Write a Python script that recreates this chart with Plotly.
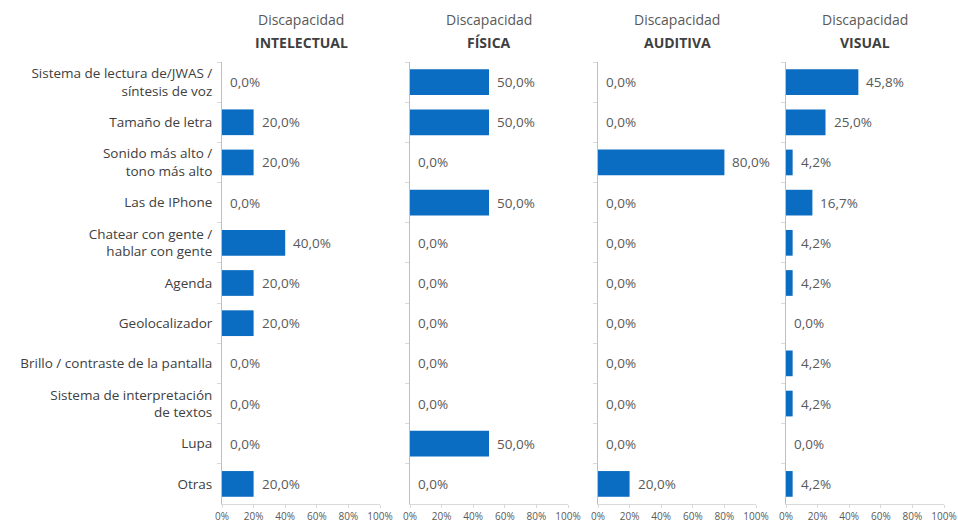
import plotly.graph_objects as go

# Funcionalidades usadas, por tipo de discapacidad (% de usuarios)
categorias = [
    "Sistema de lectura de/JWAS /<br>síntesis de voz",
    "Tamaño de letra",
    "Sonido más alto /<br>tono más alto",
    "Las de IPhone",
    "Chatear con gente /<br>hablar con gente",
    "Agenda",
    "Geolocalizador",
    "Brillo / contraste de la pantalla",
    "Sistema de interpretación<br>de textos",
    "Lupa",
    "Otras",
]
intelectual = [0.0, 20.0, 20.0, 0.0, 40.0, 20.0, 20.0, 0.0, 0.0, 0.0, 20.0]
fisica = [50.0, 50.0, 0.0, 50.0, 0.0, 0.0, 0.0, 0.0, 0.0, 50.0, 0.0]
auditiva = [0.0, 0.0, 80.0, 0.0, 0.0, 0.0, 0.0, 0.0, 0.0, 0.0, 20.0]
visual = [45.8, 25.0, 4.2, 16.7, 4.2, 4.2, 0.0, 4.2, 4.2, 0.0, 4.2]

paneles = [
    ("INTELECTUAL", intelectual),
    ("FÍSICA", fisica),
    ("AUDITIVA", auditiva),
    ("VISUAL", visual),
]
ticks_x = [0, 20, 40, 60, 80, 100]
ticks_x_txt = ["0%", "20%", "40%", "60%", "80%", "100%"]

W, H = 958, 526
FONT = "Open Sans"
AZUL = "#0B6DC2"
GRIS_TXT = "#595959"
GRIS_LINEA = "#BFBFBF"

# posiciones horizontales de cada panel (px)
x_inicio = [222, 410, 598, 786]
ancho = 158
y_dom = [(H - 504) / H, (H - 62) / H]

fig = go.Figure()
annotations = []

for i, (nombre, valores) in enumerate(paneles):
    n = i + 1
    xa = "x" if n == 1 else f"x{n}"
    ya = "y" if n == 1 else f"y{n}"
    fig.add_trace(go.Bar(
        x=valores, y=categorias, orientation="h",
        xaxis=xa, yaxis=ya,
        marker=dict(color=AZUL, line=dict(width=0)),
        width=0.64, showlegend=False, hoverinfo="x+y",
    ))
    for cat, v in zip(categorias, valores):
        annotations.append(dict(
            x=v, y=cat, xref=xa, yref=ya, xanchor="left", yanchor="middle",
            xshift=6, showarrow=False,
            text=f"{v:.1f}".replace(".", ",") + "%",
            font=dict(family=FONT, size=13.5, color=GRIS_TXT),
        ))
    d0 = x_inicio[i] / W
    d1 = (x_inicio[i] + ancho) / W
    centro = (x_inicio[i] + ancho / 2) / W
    annotations.append(dict(
        x=centro, y=(H - 20) / H, xref="paper", yref="paper",
        xanchor="center", yanchor="middle", showarrow=False,
        text="Discapacidad", font=dict(family=FONT, size=14, color=GRIS_TXT),
    ))
    annotations.append(dict(
        x=centro, y=(H - 43) / H, xref="paper", yref="paper",
        xanchor="center", yanchor="middle", showarrow=False,
        text=f"<b>{nombre}</b>", font=dict(family=FONT, size=14, color="#3F3F3F"),
    ))
    fig.layout[f"xaxis{'' if n == 1 else n}"] = dict(
        domain=[d0, d1], range=[0, 100], anchor=ya,
        tickvals=ticks_x, ticktext=ticks_x_txt,
        tickfont=dict(family=FONT, size=10, color=GRIS_TXT),
        showgrid=False, zeroline=False,
        showline=True, linecolor="#D9D9D9", linewidth=1,
        ticks="outside", ticklen=3, tickcolor="#D9D9D9",
        fixedrange=True, automargin=False,
    )
    fig.layout[f"yaxis{'' if n == 1 else n}"] = dict(
        domain=y_dom, anchor=xa, type="category",
        categoryorder="array", categoryarray=categorias,
        autorange="reversed",
        showticklabels=(n == 1),
        tickfont=dict(family=FONT, size=13.5, color="#404040"),
        ticks="outside", ticklen=4, tickcolor="#D9D9D9", tickson="boundaries",
        showline=True, linecolor=GRIS_LINEA, linewidth=1,
        showgrid=False, zeroline=False, ticklabelstandoff=6,
        fixedrange=True, automargin=False,
    )

fig.update_layout(
    width=W, height=H,
    margin=dict(l=0, r=0, t=0, b=0),
    paper_bgcolor="white", plot_bgcolor="white",
    bargap=0.36,
    annotations=annotations,
    font=dict(family=FONT, color=GRIS_TXT),
)

fig.write_html("out.html")
